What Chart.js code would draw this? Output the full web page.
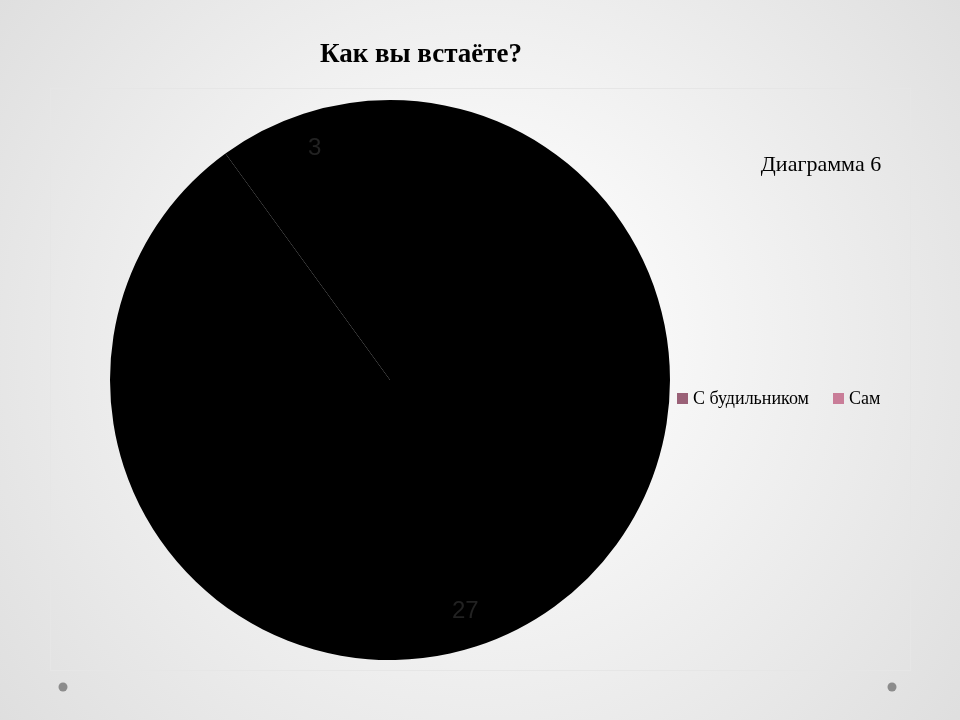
<!DOCTYPE html>
<html>
<head>
<meta charset="utf-8">
<script src="https://cdn.jsdelivr.net/npm/chart.js@4/dist/chart.umd.min.js"></script>
<style>
  html, body { margin: 0; padding: 0; }
  #wrap { width: 960px; height: 720px; }
</style>
</head>
<body>
<div id="wrap"><canvas id="pie"></canvas></div>
<script>
const categories = ['С будильником', 'Сам'];
const counts = [27, 3];
const chartTitle = 'Как вы встаёте?';
const caption = 'Диаграмма 6';

const serif = '"Liberation Serif", "DejaVu Serif", serif';
const sans = '"Liberation Sans", Arial, sans-serif';

// Slide background, frame and decorative dots
const slideBackground = {
    id: 'slideBackground',
    beforeDraw(chart) {
        const ctx = chart.ctx;
        const g = ctx.createRadialGradient(480, 330, 50, 480, 360, 700);
        g.addColorStop(0, '#ffffff');
        g.addColorStop(1, '#d9d9d9');
        ctx.save();
        ctx.fillStyle = g;
        ctx.fillRect(0, 0, chart.width, chart.height);
        ctx.strokeStyle = '#e6e6e6';
        ctx.lineWidth = 1;
        ctx.strokeRect(50.5, 88.5, 860, 582);
        ctx.fillStyle = '#8c8c8c';
        [[63, 687], [892, 687]].forEach(p => {
            ctx.beginPath();
            ctx.arc(p[0], p[1], 4.5, 0, Math.PI * 2);
            ctx.fill();
        });
        ctx.restore();
    }
};

// Title, caption, legend and value labels
const overlayText = {
    id: 'overlayText',
    afterDraw(chart) {
        const ctx = chart.ctx;
        ctx.save();
        ctx.fillStyle = '#000';
        ctx.textBaseline = 'middle';
        ctx.textAlign = 'center';
        ctx.font = 'bold 27px ' + serif;
        ctx.fillText(chartTitle, 421, 55);
        ctx.font = '22px ' + serif;
        ctx.fillText(caption, 821, 165);

        // legend
        const markers = ['#9a6177', '#c97d98'];
        const legendX = [677, 833];
        ctx.textAlign = 'left';
        ctx.font = '18px ' + serif;
        categories.forEach((c, i) => {
            ctx.fillStyle = markers[i];
            ctx.fillRect(legendX[i], 393, 11, 11);
            ctx.fillStyle = '#000';
            ctx.fillText(c, legendX[i] + 16, 399);
        });

        // value labels near the outer edge of each slice
        const meta = chart.getDatasetMeta(0);
        ctx.textAlign = 'center';
        ctx.font = '24px ' + sans;
        meta.data.forEach((arc, i) => {
            const mid = (arc.startAngle + arc.endAngle) / 2;
            const r = arc.outerRadius * 0.87;
            ctx.fillStyle = '#222';
            ctx.fillText(String(counts[i]), arc.x + Math.cos(mid) * r, arc.y + Math.sin(mid) * r);
        });
        ctx.restore();
    }
};

function sliceFill(top, bottom) {
    return function(context) {
        const area = context.chart.chartArea;
        if (!area) return top;
        const g = context.chart.ctx.createLinearGradient(0, area.top, 0, area.bottom);
        g.addColorStop(0, top);
        g.addColorStop(1, bottom);
        return g;
    };
}

new Chart(document.getElementById('pie'), {
    type: 'pie',
    data: {
        labels: categories,
        datasets: [{
            data: counts,
            backgroundColor: [sliceFill('#a96d80', '#865468'), sliceFill('#d6899f', '#b56d86')],
            borderWidth: 0
        }]
    },
    options: {
        responsive: true,
        maintainAspectRatio: false,
        animation: false,
        layout: { padding: { left: 110, right: 290, top: 100, bottom: 60 } },
        plugins: {
            legend: { display: false },
            tooltip: { enabled: false },
            title: { display: false }
        }
    },
    plugins: [slideBackground, overlayText]
});
</script>
</body>
</html>
